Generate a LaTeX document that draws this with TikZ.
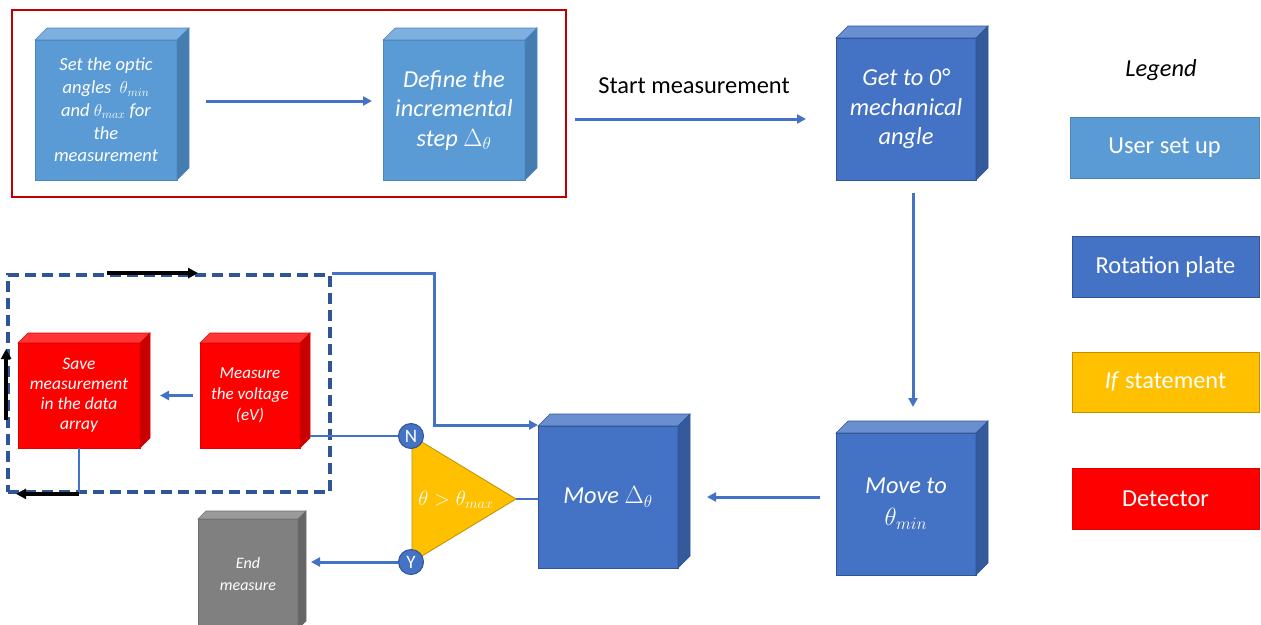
\documentclass[tikz,border=0pt]{standalone}
\usepackage{fontspec}
\setmainfont{Carlito}
\usetikzlibrary{arrows.meta,calc}
\definecolor{lbF}{HTML}{5B9BD5}
\definecolor{lbT}{HTML}{7DAFDF}
\definecolor{lbS}{HTML}{467DB0}
\definecolor{lbB}{HTML}{4C86BD}
\definecolor{dbF}{HTML}{4472C4}
\definecolor{dbT}{HTML}{6A8FD1}
\definecolor{dbS}{HTML}{355A9C}
\definecolor{dbB}{HTML}{2F5597}
\definecolor{rdF}{HTML}{FF0000}
\definecolor{rdT}{HTML}{FF3535}
\definecolor{rdS}{HTML}{C80000}
\definecolor{rdB}{HTML}{E00000}
\definecolor{gyF}{HTML}{808080}
\definecolor{gyT}{HTML}{9A9A9A}
\definecolor{gyS}{HTML}{666666}
\definecolor{gyB}{HTML}{707070}
\definecolor{ylF}{HTML}{FFC000}
\definecolor{ylB}{HTML}{BF9000}
\definecolor{arrcol}{HTML}{4472C4}
\definecolor{dashcol}{HTML}{2F5597}
\definecolor{framered}{HTML}{C00000}
\newcommand\cubefaces[5]{% name, top, side, border, depth
  \filldraw[fill=#2,draw=#4,line width=0.6pt] (#1.north west) -- ++(#5,-#5) -- ($(#1.north east)+(#5,-#5)$) -- (#1.north east) -- cycle;
  \filldraw[fill=#3,draw=#4,line width=0.6pt] (#1.north east) -- ++(#5,-#5) -- ($(#1.south east)+(#5,-#5)$) -- (#1.south east) -- cycle;
}
\tikzset{
  cubebox/.style={rectangle, inner sep=2pt, outer sep=0pt, text=white, align=center, line width=0.6pt},
  lightbox/.style={cubebox, fill=lbF, draw=lbB},
  darkbox/.style={cubebox, fill=dbF, draw=dbB},
  redbox/.style={cubebox, fill=rdF, draw=rdB},
  graybox/.style={cubebox, fill=gyF, draw=gyB},
  legbox/.style={rectangle, inner sep=2pt, outer sep=0pt, text=white, line width=0.8pt, minimum height=61pt, font=\fontsize{24.4}{28}\selectfont},
  arr/.style={draw=arrcol, line width=3pt, -{Triangle[length=9pt,width=9pt]}},
  thinline/.style={draw=arrcol, line width=1.8pt},
  blackarr/.style={draw=black, line width=3.6pt, -{Triangle[length=10pt,width=10pt]}},
  circ/.style={circle, fill=dbF, draw=dbB, line width=1pt, minimum size=25pt, inner sep=0pt, text=white, font=\fontsize{19}{19}\selectfont},
  bigtxt/.style={font=\fontsize{24.4}{29.5}\selectfont\itshape},
}
\begin{document}
\begin{tikzpicture}[x=1pt,y=-1pt]
\useasboundingbox (0,0) rectangle (1261,624);
\clip (0,0) rectangle (1261,624);
\fill[white] (0,0) rectangle (1261,624);

% frames
\node[draw=framered, line width=1.6pt, minimum width=554pt, minimum height=187pt, inner sep=0pt] (setupframe) at (289,103.5) {};
\node[draw=dashcol, dash pattern=on 11pt off 6pt, line width=3.8pt, minimum width=322pt, minimum height=217pt, inner sep=0pt] (loopframe) at (169,383.5) {};

% cubes
\node[lightbox, minimum width=142pt, minimum height=140pt, font=\fontsize{18.5}{22.75}\selectfont\itshape] (setup1) at (106,110)
  {Set the optic\\angles\ \ $\theta_{min}$\\and $\theta_{max}$ for\\the\\measurement};
\cubefaces{setup1}{lbT}{lbS}{lbB}{12}
\node[lightbox, minimum width=142pt, minimum height=140pt, bigtxt] (setup2) at (454,110)
  {Define the\\incremental\\step $\Delta_\theta$};
\cubefaces{setup2}{lbT}{lbS}{lbB}{12}
\node[darkbox, minimum width=140pt, minimum height=142pt, bigtxt] (get0) at (906,109)
  {Get to 0°\\mechanical\\angle};
\cubefaces{get0}{dbT}{dbS}{dbB}{12}
\node[darkbox, minimum width=140pt, minimum height=142pt, font=\fontsize{24.4}{32}\selectfont\itshape] (movemin) at (906,504)
  {Move to\\$\theta_{min}$};
\cubefaces{movemin}{dbT}{dbS}{dbB}{12}
\node[darkbox, minimum width=140pt, minimum height=142pt, bigtxt] (move) at (608,497)
  {Move $\Delta_\theta$};
\cubefaces{move}{dbT}{dbS}{dbB}{12}
\node[redbox, minimum width=122pt, minimum height=105pt, font=\fontsize{17.5}{20}\selectfont\itshape] (save) at (79,395.5)
  {Save\\measurement\\in the data\\array};
\cubefaces{save}{rdT}{rdS}{rdB}{10}
\node[redbox, minimum width=100pt, minimum height=105pt, font=\fontsize{17}{21}\selectfont\itshape] (measure) at (250,395.5)
  {Measure\\the voltage\\(eV)};
\cubefaces{measure}{rdT}{rdS}{rdB}{10}
\node[graybox, minimum width=100pt, minimum height=110pt, font=\fontsize{16}{22}\selectfont\itshape] (endm) at (248,574)
  {End\\measure};
\cubefaces{endm}{gyT}{gyS}{gyB}{8}

% condition
\coordinate (tip) at (516,499);
\filldraw[fill=ylF, draw=ylB, line width=0.8pt] (412,436) -- (tip) -- (412,562) -- cycle;
\node[circ] (N) at (411,436) {N};
\node[circ] (Y) at (411,562) {Y};
\node[text=white, font=\fontsize{20.5}{20.5}\selectfont] (condtxt) at (456,500) {$\theta > \theta_{max}$};

% labels
\node[font=\fontsize{24.4}{28}\selectfont] (startlbl) at (694,86) {Start measurement};
\node[font=\fontsize{24.4}{28}\selectfont\itshape] (legendlbl) at (1161,70) {Legend};

% legend
\node[legbox, fill=lbF, draw=lbB, minimum width=189pt] (legA) at (1164.5,147.5) {User set up};
\node[legbox, fill=dbF, draw=dbB, minimum width=187pt] (legB) at (1165.5,266.5) {Rotation plate};
\node[legbox, fill=ylF, draw=ylB, minimum width=187pt, minimum height=60pt] (legC) at (1165.5,382) {\textit{If} statement};
\node[legbox, fill=rdF, draw=rdB, minimum width=187pt] (legD) at (1165.5,498.5) {Detector};

% connectors
\draw[arr, shorten <=29pt, shorten >=11pt] ([yshift=9pt]setup1.east) -- ([yshift=9pt]setup2.west);
\draw[arr, shorten <=8pt, shorten >=30pt] ([yshift=-15.5pt]setupframe.east) -- ([yshift=-10pt]get0.west);
\draw[arr, shorten <=13pt, shorten >=26pt] ([xshift=7pt]get0.south) -- ([xshift=7pt]movemin.north);
\draw[arr, shorten <=16pt, shorten >=29pt] (movemin.west |- move.center) -- (move.east);
\draw[thinline] (tip) -- (tip -| move.west);
\draw[arr] (loopframe.north east) -- ++(103,0) |- ([yshift=1pt]move.north west);
\draw[thinline, shorten <=10pt] (measure.east |- N.center) -- (N.west);
\draw[arr, shorten >=13pt] (Y.west) -- (endm.east |- Y.center);
\draw[arr, shorten <=7pt, shorten >=20pt] (measure.west) -- (save.east);
\draw[thinline] (save.south) -- (save.south |- loopframe.south);

% black loop arrows
\draw[blackarr] (save.south |- loopframe.south) -- ([xshift=10pt]loopframe.south west);
\draw[blackarr] ([yshift=-36.5pt]loopframe.west) -- ([yshift=34.5pt]loopframe.west);
\draw[blackarr] ([xshift=101pt]loopframe.north west) -- ([xshift=192pt]loopframe.north west);
\end{tikzpicture}
\end{document}
